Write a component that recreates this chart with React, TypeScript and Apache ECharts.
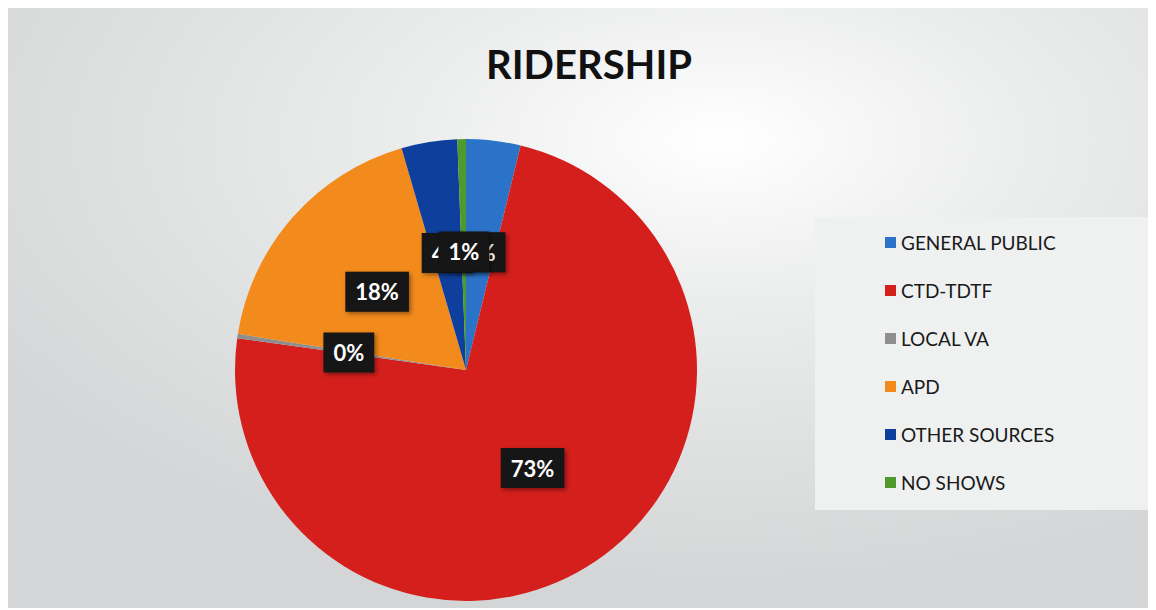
import React, { useEffect, useRef } from "react";
import * as echarts from "echarts";

const categories = ["GENERAL PUBLIC", "CTD-TDTF", "LOCAL VA", "APD", "OTHER SOURCES", "NO SHOWS"];
const values = [3.8, 73.4, 0.3, 18.0, 3.9, 0.6];
const colors = ["#2a73c8", "#d41f1c", "#8f8f8f", "#f28a1c", "#0e3f9c", "#4f9a2c"];

export default function App() {
  const ref = useRef<HTMLDivElement>(null);
  useEffect(() => {
    const chart = echarts.init(ref.current!, null, { renderer: "svg" });
    chart.setOption({
      animation: false,
      backgroundColor: {
        type: "radial",
        x: 0.62,
        y: 0.22,
        r: 0.75,
        colorStops: [
          { offset: 0, color: "#ffffff" },
          { offset: 0.35, color: "#eceded" },
          { offset: 1, color: "#d3d5d6" },
        ],
      },
      title: {
        text: "RIDERSHIP",
        left: 576,
        top: 31,
        textAlign: "center",
        textStyle: { fontFamily: "Lato", fontWeight: "bold", fontSize: 40, color: "#111" },
      },
      graphic: [
        {
          type: "rect",
          shape: { x: 807, y: 209, width: 341, height: 293 },
          style: { fill: "#eff1f1" },
          z: 0,
        },
      ],
      legend: {
        orient: "vertical",
        left: 872,
        top: 220,
        icon: "rect",
        itemWidth: 11,
        itemHeight: 11,
        itemGap: 29,
        data: categories,
        textStyle: { fontFamily: "Lato", fontSize: 19, color: "#1a1a1a" },
        z: 5,
      },
      series: [
        {
          type: "pie",
          center: [458, 362],
          radius: [0, 231],
          startAngle: 90,
          clockwise: true,
          avoidLabelOverlap: false,
          labelLayout: { hideOverlap: false },
          data: categories.map((name, i) => ({
            name,
            value: values[i],
            itemStyle: { color: colors[i] },
          })),
          label: {
            show: true,
            position: "inside",
            formatter: (p: any) => Math.round(p.value) + "%",
            fontFamily: "Lato",
            fontWeight: "bold",
            fontSize: 22,
            color: "#ffffff",
            backgroundColor: "#141414",
            padding: [9, 10, 9, 10],
            shadowColor: "rgba(0,0,0,0.4)",
            shadowBlur: 4,
            shadowOffsetX: 2,
            shadowOffsetY: 2,
          },
          labelLine: { show: false },
          itemStyle: { borderWidth: 0 },
          emphasis: { disabled: true },
        },
      ],
    });
    return () => chart.dispose();
  }, []);
  return <div ref={ref} style={{ width: 1148, height: 600 }} />;
}
